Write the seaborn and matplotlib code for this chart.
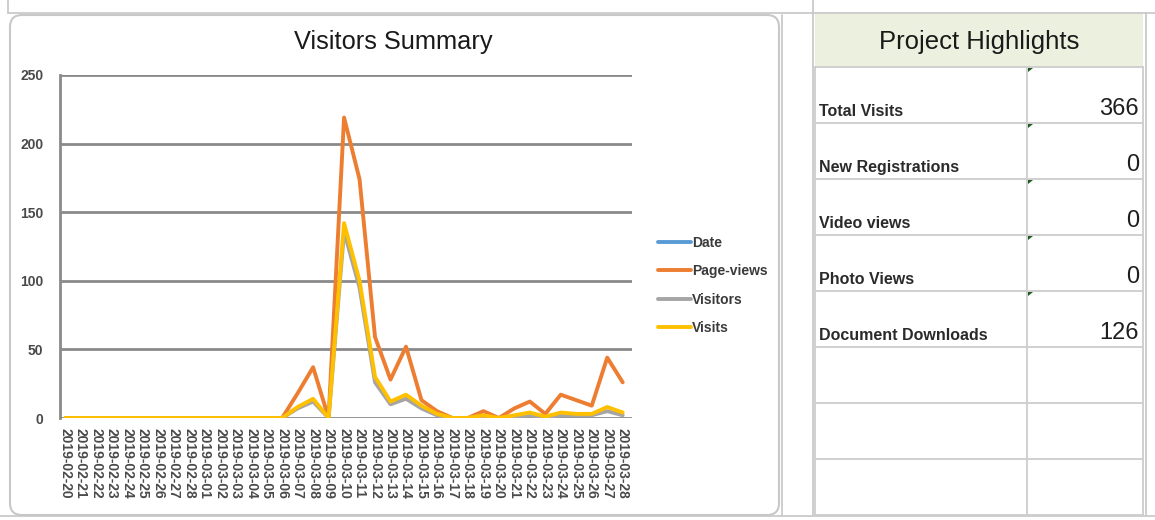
import matplotlib
matplotlib.use('Agg')
import matplotlib.pyplot as plt
from matplotlib.patches import FancyBboxPatch, Rectangle, Polygon
import numpy as np
import pandas as pd
import seaborn as sns

sns.set_theme(style='white')
plt.rcParams['font.family'] = ['Liberation Sans', 'DejaVu Sans']

# data
dates = pd.date_range('2019-02-20', '2019-03-28').strftime('%Y-%m-%d').tolist()
page_views = [0, 0, 0, 0, 0, 0, 0, 0, 0, 0, 0, 0, 0, 0, 0, 18, 37, 0, 219, 174, 59, 28, 52, 13,
              5, 0, 0, 5, 0, 7, 12, 3, 17, 13, 9, 44, 26]
visitors = [0, 0, 0, 0, 0, 0, 0, 0, 0, 0, 0, 0, 0, 0, 0, 7, 12, 0, 136, 95, 26, 10, 14, 7,
            2, 0, 0, 1, 0, 1, 2, 0, 2, 2, 2, 5, 2]
visits = [0, 0, 0, 0, 0, 0, 0, 0, 0, 0, 0, 0, 0, 0, 0, 8, 14, 0, 142, 100, 30, 12, 17, 9,
          3, 0, 0, 2, 0, 2, 4, 1, 4, 3, 3, 8, 4]
# the "Date" column is plotted too (Excel serial numbers, far above the axis)
date_serial = (pd.to_datetime(dates) - pd.Timestamp('1899-12-30')).days.tolist()

series_names = ['Date', 'Page-views', 'Visitors', 'Visits']
series_colors = {'Date': '#5B9BD5', 'Page-views': '#ED7D31', 'Visitors': '#A5A5A5', 'Visits': '#FFC000'}

highlight_labels = ['Total Visits', 'New Registrations', 'Video views', 'Photo Views', 'Document Downloads', '', '', '']
highlight_values = ['366', '0', '0', '0', '126', '', '', '']

# long form table for seaborn
idx = list(range(len(dates)))
df = pd.DataFrame({
    'idx': idx * 4,
    'value': date_serial + page_views + visitors + visits,
    'series': sum([[s] * len(dates) for s in series_names], []),
})

W, H = 1155, 520
fig = plt.figure(figsize=(W / 100, H / 100), dpi=100)

# background "sheet" layer in pixel coordinates
bg = fig.add_axes([0, 0, 1, 1], zorder=0)
bg.set_xlim(0, W)
bg.set_ylim(H, 0)
bg.axis('off')

cell = '#c6c6c6'
bg.plot([8, W], [13, 13], color=cell, lw=1.2)
bg.plot([8, 8], [0, 13], color=cell, lw=1.2)
bg.plot([813, 813], [0, 515], color=cell, lw=1.2)
bg.plot([782, 782], [15, 515], color=cell, lw=1.2)
bg.plot([0, W], [516, 516], color=cell, lw=1.2)
bg.plot([1146, 1146], [13, 515], color=cell, lw=1.2)

# chart panel
bg.add_patch(FancyBboxPatch((10, 15), 769, 500, boxstyle='round,pad=0,rounding_size=12',
                            facecolor='white', edgecolor='#c8c8c8', lw=1.5))

# Project Highlights table
bg.add_patch(Rectangle((815, 13), 328, 54, facecolor='#EBF1DE', edgecolor='none'))
bg.text(979, 42, 'Project Highlights', ha='center', va='center', fontsize=18.5, color='#1a1a1a')
row_top, row_h = 67, 56
n_rows = len(highlight_labels)
for i in range(n_rows + 1):
    bg.plot([815, 1143], [row_top + i * row_h] * 2, color='#cdcdcd', lw=1.3)
for xv in [815, 1027, 1143]:
    bg.plot([xv, xv], [row_top, row_top + n_rows * row_h], color='#cdcdcd', lw=1.3)
for i, (lab, val) in enumerate(zip(highlight_labels, highlight_values)):
    y0 = row_top + i * row_h
    if lab:
        bg.text(819, y0 + row_h - 4, lab, ha='left', va='bottom', fontsize=11.5,
                fontweight='bold', color='#2a2a2a')
    if val:
        bg.text(1139, y0 + row_h - 3, val, ha='right', va='bottom', fontsize=17, color='#1f1f1f')
        bg.add_patch(Polygon([[1028, y0 + 1], [1033, y0 + 1], [1028, y0 + 5]], closed=True,
                             facecolor='#1e5c1e', edgecolor='none'))

# chart title
bg.text(393, 42, 'Visitors Summary', ha='center', va='center', fontsize=18.3, color='#1a1a1a')

# line chart
ax = fig.add_axes([60 / W, 1 - 418 / H, (632 - 60) / W, (418 - 75) / H], zorder=2)
ax.set_facecolor('none')
sns.lineplot(data=df, x='idx', y='value', hue='series', hue_order=series_names,
             palette=series_colors, estimator=None, sort=False, linewidth=2.8, ax=ax)

ax.set_ylim(0, 250)
ax.set_xlim(-0.35, len(dates) - 1 + 0.6)
ax.set_yticks([0, 50, 100, 150, 200, 250])
ax.set_xticks(idx)
ax.set_xticklabels(dates, rotation=-90, ha='center', va='top', fontweight='bold')
ax.set_yticklabels([str(v) for v in [0, 50, 100, 150, 200, 250]], fontweight='bold')
ax.tick_params(axis='x', length=0, pad=7, labelsize=10, labelcolor='#4a4a4a')
ax.tick_params(axis='y', length=0, pad=12, labelsize=10, labelcolor='#4a4a4a')
ax.set_xlabel('')
ax.set_ylabel('')
ax.yaxis.grid(True, color='#8a8a8a', lw=2)
ax.xaxis.grid(False)
ax.set_axisbelow(True)
for s in ['top', 'right', 'bottom']:
    ax.spines[s].set_visible(False)
ax.spines['left'].set_color('#8a8a8a')
ax.spines['left'].set_linewidth(2)

ax.legend(loc='upper left', bbox_to_anchor=(652 / W, 1 - 230 / H), bbox_transform=fig.transFigure,
          frameon=False, prop={'size': 10, 'weight': 'bold'}, handlelength=2.4, handletextpad=0.1,
          labelspacing=1.05, borderaxespad=0, labelcolor='#3a3a3a')
for line in ax.get_legend().get_lines():
    line.set_linewidth(2.8)

fig.savefig('out.png', dpi=100)
